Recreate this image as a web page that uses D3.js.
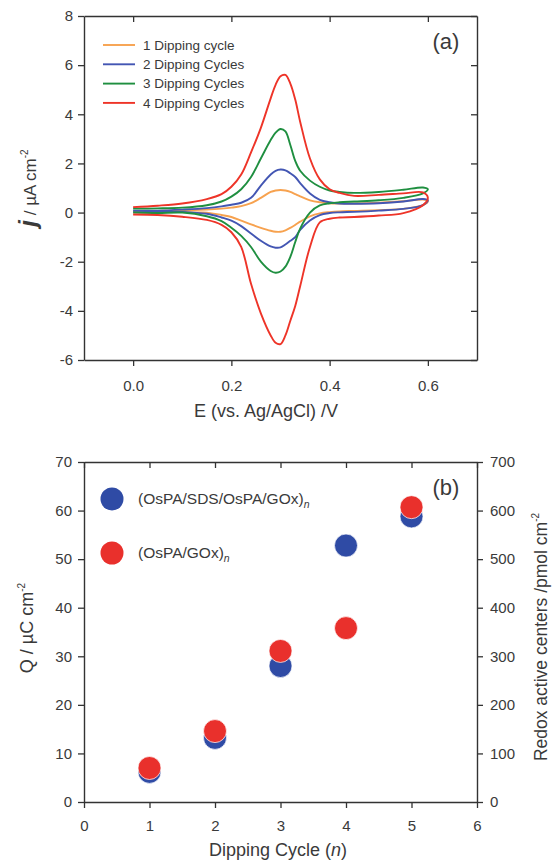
<!DOCTYPE html>
<html>
<head>
<meta charset="utf-8">
<script src="https://cdn.jsdelivr.net/npm/d3@7"></script>
<style>
  body { margin: 0; background: #fff; }
  text { font-family: "Liberation Sans", Arial, sans-serif; fill: #3a3a3a; }
</style>
</head>
<body>
<div id="chart"></div>
<script>
// ---- panel (a): cyclic voltammograms ----
var potential = [0.00, 0.05, 0.10, 0.15, 0.18, 0.20, 0.22, 0.24, 0.26, 0.28, 0.29, 0.30,
                 0.31, 0.32, 0.33, 0.34, 0.36, 0.38, 0.40, 0.42, 0.45, 0.50, 0.55, 0.59];
var vertexE = 0.60;
var cvNames = ["1 Dipping cycle", "2 Dipping Cycles", "3 Dipping Cycles", "4 Dipping Cycles"];
// anodic (upper) branches
var j1Up = [0.06, 0.07, 0.08, 0.12, 0.16, 0.20, 0.26, 0.38, 0.60, 0.84, 0.90, 0.92,
            0.90, 0.84, 0.75, 0.66, 0.50, 0.42, 0.38, 0.37, 0.37, 0.40, 0.46, 0.53];
var j2Up = [0.08, 0.08, 0.12, 0.18, 0.25, 0.32, 0.40, 0.60, 1.10, 1.55, 1.70, 1.75,
            1.72, 1.60, 1.45, 1.20, 0.78, 0.52, 0.42, 0.37, 0.36, 0.38, 0.45, 0.55];
var j3Up = [0.16, 0.17, 0.20, 0.30, 0.45, 0.65, 0.95, 1.45, 2.20, 2.95, 3.25, 3.40,
            3.30, 2.75, 2.10, 1.70, 1.30, 1.05, 0.90, 0.84, 0.80, 0.84, 0.93, 1.02];
var j4Up = [0.22, 0.28, 0.37, 0.55, 0.75, 1.05, 1.55, 2.45, 3.45, 4.65, 5.20, 5.55,
            5.60, 5.25, 4.60, 3.70, 2.20, 1.35, 0.95, 0.80, 0.68, 0.72, 0.78, 0.82];
// cathodic (lower) branches, same potentials
var j1Down = [0.04, 0.04, 0.04, 0.00, -0.10, -0.18, -0.33, -0.48, -0.62, -0.74, -0.78, -0.78,
              -0.72, -0.62, -0.50, -0.37, -0.15, -0.03, 0.02, 0.05, 0.07, 0.10, 0.15, 0.30];
var j2Down = [0.05, 0.04, 0.03, -0.05, -0.20, -0.33, -0.55, -0.85, -1.15, -1.38, -1.43, -1.42,
              -1.30, -1.15, -1.00, -0.70, -0.32, -0.10, -0.02, 0.01, 0.03, 0.08, 0.15, 0.30];
var j3Down = [0.00, -0.02, 0.00, -0.15, -0.35, -0.62, -0.95, -1.40, -2.00, -2.38, -2.45, -2.40,
              -2.20, -1.80, -1.20, -0.65, 0.00, 0.29, 0.38, 0.42, 0.45, 0.50, 0.60, 0.78];
var j4Down = [-0.08, -0.10, -0.17, -0.30, -0.50, -0.80, -1.40, -2.90, -4.10, -5.00, -5.30, -5.35,
              -5.00, -4.40, -3.80, -3.00, -1.40, -0.40, -0.25, -0.20, -0.18, -0.12, -0.02, 0.30];
var vertexJ = [0.45, 0.50, 0.95, 0.60];
var cvColors = ["#f7a24f", "#4356b3", "#1f8f40", "#ee3428"];

// ---- panel (b): charge vs dipping cycle ----
var cycles = [1, 2, 3, 4, 5];
var qSds = [6.2, 13.2, 28.0, 52.8, 58.8];
var qGox = [7.0, 14.6, 31.1, 35.8, 60.7];
var dotNames = ["(OsPA/SDS/OsPA/GOx)", "(OsPA/GOx)"];
var dotColors = ["#2f4ba5", "#e9302c"];

var W = 553, H = 864;
var svg = d3.select("#chart").append("svg").attr("width", W).attr("height", H);

function styleAxis(g) {
  g.selectAll(".domain").attr("stroke", "#333").attr("stroke-width", 1.4);
  g.selectAll(".tick line").attr("stroke", "#333").attr("stroke-width", 1.3);
  g.selectAll(".tick text").style("font-size", "15px").attr("fill", "#3a3a3a");
}

// ================= panel (a) =================
var xa = d3.scaleLinear().domain([-0.1, 0.7]).range([84, 477]);
var ya = d3.scaleLinear().domain([-6, 8]).range([360, 16]);
var xTicksA = [0.0, 0.2, 0.4, 0.6];
var yTicksA = [-6, -4, -2, 0, 2, 4, 6, 8];

var gA = svg.append("g");
gA.append("g").attr("transform", "translate(0,360)")
  .call(d3.axisBottom(xa).tickValues(xTicksA).tickFormat(d3.format(".1f")).tickSize(6).tickSizeOuter(0).tickPadding(14))
  .call(styleAxis);
gA.append("g").attr("transform", "translate(0,16)")
  .call(d3.axisTop(xa).tickValues(xTicksA).tickFormat("").tickSize(-6).tickSizeOuter(0))
  .call(styleAxis);
gA.append("g").attr("transform", "translate(84,0)")
  .call(d3.axisLeft(ya).tickValues(yTicksA).tickFormat(function(d){ return String(d); }).tickSize(6).tickSizeOuter(0).tickPadding(5))
  .call(styleAxis);
gA.append("g").attr("transform", "translate(477,0)")
  .call(d3.axisRight(ya).tickValues(yTicksA).tickFormat("").tickSize(-6).tickSizeOuter(0))
  .call(styleAxis);

var cvUp = [j1Up, j2Up, j3Up, j4Up];
var cvDown = [j1Down, j2Down, j3Down, j4Down];
var line = d3.line().x(function(d){ return xa(d[0]); }).y(function(d){ return ya(d[1]); })
  .curve(d3.curveCatmullRom.alpha(0.5));

for (var c = 0; c < 4; c++) {
  var pts = [];
  for (var i = 0; i < potential.length; i++) pts.push([potential[i], cvUp[c][i]]);
  pts.push([vertexE, vertexJ[c]]);
  for (var k = potential.length - 1; k >= 0; k--) pts.push([potential[k], cvDown[c][k]]);
  gA.append("path").datum(pts)
    .attr("d", line)
    .attr("fill", "none")
    .attr("stroke", cvColors[c])
    .attr("stroke-width", 1.9);
}

// legend (a)
var legA = gA.append("g");
cvNames.forEach(function(n, i) {
  var yy = 45 + i * 19.3;
  legA.append("line").attr("x1", 103).attr("x2", 135).attr("y1", yy).attr("y2", yy)
    .attr("stroke", cvColors[i]).attr("stroke-width", 1.9);
  legA.append("text").attr("x", 143).attr("y", yy).attr("dy", "0.35em")
    .style("font-size", "13.5px").text(n);
});
gA.append("text").attr("x", 446).attr("y", 49).attr("text-anchor", "middle")
  .style("font-size", "22px").text("(a)");

gA.append("text").attr("x", 266).attr("y", 417).attr("text-anchor", "middle")
  .style("font-size", "18px").text("E (vs. Ag/AgCl) /V");

var jl = gA.append("text").attr("transform", "translate(36,188) rotate(-90)").attr("text-anchor", "middle");
jl.append("tspan").style("font-size", "24px").style("font-style", "italic").style("font-weight", "bold").text("j");
jl.append("tspan").style("font-size", "17px").text(" / \u00b5A cm");
jl.append("tspan").style("font-size", "10px").attr("dy", "-8").text("-2");

// ================= panel (b) =================
var xb = d3.scaleLinear().domain([0, 6]).range([84, 477]);
var yb = d3.scaleLinear().domain([0, 70]).range([802, 462]);
var yb2 = d3.scaleLinear().domain([0, 700]).range([802, 462]);

var gB = svg.append("g");
gB.append("g").attr("transform", "translate(0,802)")
  .call(d3.axisBottom(xb).ticks(6).tickFormat(d3.format("d")).tickSize(6).tickSizeOuter(0).tickPadding(12))
  .call(styleAxis);
gB.append("g").attr("transform", "translate(0,462)")
  .call(d3.axisTop(xb).ticks(6).tickFormat("").tickSize(-6).tickSizeOuter(0))
  .call(styleAxis);
gB.append("g").attr("transform", "translate(84,0)")
  .call(d3.axisLeft(yb).ticks(7).tickFormat(d3.format("d")).tickSize(6).tickSizeOuter(0).tickPadding(6))
  .call(styleAxis);
gB.append("g").attr("transform", "translate(477,0)")
  .call(d3.axisRight(yb2).ticks(7).tickFormat(d3.format("d")).tickSize(6).tickSizeOuter(0).tickPadding(7))
  .call(styleAxis);

var series = [qSds, qGox];
series.forEach(function(vals, s) {
  gB.selectAll(".dot" + s).data(cycles).enter().append("circle")
    .attr("cx", function(d){ return xb(d); })
    .attr("cy", function(d, i){ return yb(vals[i]); })
    .attr("r", 11.5)
    .attr("fill", dotColors[s])
    .attr("stroke", "rgba(255,255,255,0.7)")
    .attr("stroke-width", 1);
});

// legend (b)
dotNames.forEach(function(n, i) {
  var yy = 499 + i * 54;
  gB.append("circle").attr("cx", 112).attr("cy", yy).attr("r", 11.5).attr("fill", dotColors[i]);
  var t = gB.append("text").attr("x", 138).attr("y", yy).attr("dy", "0.35em").style("font-size", "15.5px");
  t.append("tspan").text(n);
  t.append("tspan").attr("dy", "4").style("font-size", "10.5px").style("font-style", "italic").text("n");
});
gB.append("text").attr("x", 446).attr("y", 495).attr("text-anchor", "middle")
  .style("font-size", "22px").text("(b)");

var xl = gB.append("text").attr("x", 278).attr("y", 856).attr("text-anchor", "middle").style("font-size", "18px");
xl.append("tspan").text("Dipping Cycle (");
xl.append("tspan").style("font-style", "italic").text("n");
xl.append("tspan").text(")");

var ql = gB.append("text").attr("transform", "translate(33,628) rotate(-90)").attr("text-anchor", "middle").style("font-size", "18px");
ql.append("tspan").text("Q /  \u00b5C cm");
ql.append("tspan").style("font-size", "10px").attr("dy", "-8").text("-2");

var rl = gB.append("text").attr("transform", "translate(547,637) rotate(-90)").attr("text-anchor", "middle").style("font-size", "17.5px");
rl.append("tspan").text("Redox active centers /pmol cm");
rl.append("tspan").style("font-size", "10px").attr("dy", "-8").text("-2");
</script>
</body>
</html>
